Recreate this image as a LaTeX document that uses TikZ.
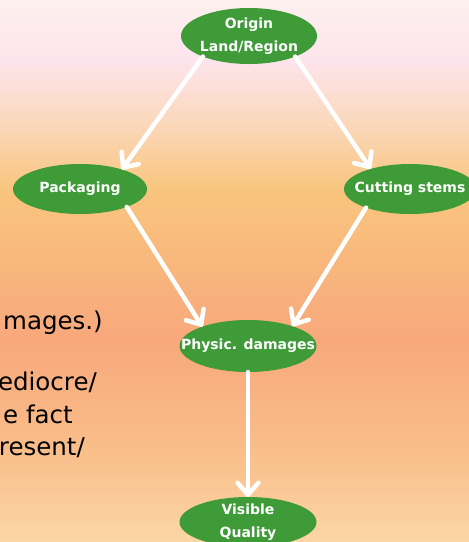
\documentclass[tikz,border=0pt]{standalone}
\usepackage{fontspec}
\setmainfont{DejaVu Sans}
\usetikzlibrary{shapes.geometric, arrows.meta}
\usepackage{xcolor}
\definecolor{leaf}{HTML}{3E9B37}
\definecolor{bgA}{HTML}{FDF0EE}
\definecolor{bgB}{HTML}{FDE4EC}
\definecolor{bgC}{HTML}{FBD9BE}
\definecolor{bgD}{HTML}{F9C57E}
\definecolor{bgE}{HTML}{F8A87C}
\definecolor{bgF}{HTML}{F9BE8A}
\definecolor{bgG}{HTML}{FBD6A6}
\tikzset{
    blob/.style = {ellipse, fill=leaf, draw=none, inner sep=0pt, outer sep=0pt},
    blobtext/.style = {text=white, align=center, inner sep=0pt,
        font=\bfseries\fontsize{14}{23}\selectfont},
    flow/.style = {white, line width=4.5pt, line cap=round,
        -{Straight Barb[length=12pt, width=21pt, round]}},
    sidetext/.style = {anchor=base east, inner sep=0pt, font=\fontsize{24.5}{31}\selectfont}
}

\begin{document}
\begin{tikzpicture}[x=1pt, y=-1pt]
    \useasboundingbox (0,0) rectangle (469,542);
    \clip (0,0) rectangle (469,542);
    % background
    \shade[top color=bgA, bottom color=bgB] (0,0) rectangle (469,60);
    \shade[top color=bgB, bottom color=bgC] (0,60) rectangle (469,120);
    \shade[top color=bgC, bottom color=bgD] (0,120) rectangle (469,190);
    \shade[top color=bgD, bottom color=bgE] (0,190) rectangle (469,340);
    \shade[top color=bgE, bottom color=bgF] (0,340) rectangle (469,450);
    \shade[top color=bgF, bottom color=bgG] (0,450) rectangle (469,542);

    % cut-off text on the left
    \node[sidetext] (lineA) at (103,329) {mages.)};
    \node[sidetext] (lineB) at (97,390) {ediocre/};
    \node[sidetext] (lineC) at (73,423) {e fact};
    \node[sidetext] (lineD) at (85,455) {resent/};

    \node[blob, minimum width=136, minimum height=56,
        label={[blobtext]center:Origin\\Land/Region}] (origin) at (249,36) {};
    \node[blob, minimum width=134, minimum height=50,
        label={[blobtext]center:Packaging}] (packaging) at (80,189) {};
    \node[blob, minimum width=132, minimum height=50,
        label={[blobtext]center:Cutting stems}] (cutting) at (410,189) {};
    \node[blob, minimum width=137, minimum height=52,
        label={[blobtext]center:Physic. damages}] (physic) at (248,346) {};
    \node[blob, minimum width=137, minimum height=50,
        label={[blobtext]center:Visible\\Quality}] (visible) at (248,522) {};

    \draw[flow] (origin.204) -- (packaging.25);
    \draw[flow] (origin.-24) -- (cutting.153);
    \draw[flow] (packaging.-21) -- (physic.157);
    \draw[flow] (cutting.203) -- (physic.24);
    \draw[flow] (physic.south) -- (visible.north);
\end{tikzpicture}
\end{document}
